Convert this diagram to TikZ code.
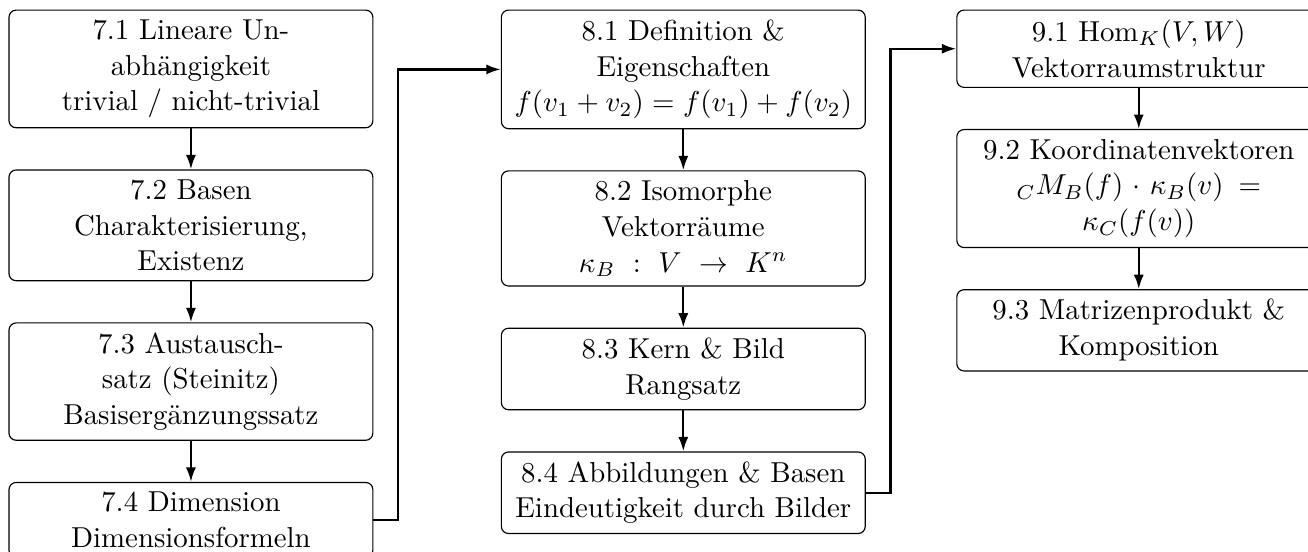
\documentclass[tikz,border=0pt]{standalone}
\usetikzlibrary{positioning,arrows.meta}
\hyphenation{Un-abhängigkeit Austausch-satz}
\begin{document}
\begin{tikzpicture}[
    font=\fontsize{10}{12.4}\selectfont,
    node distance=0.5cm,
    topic/.style={draw, rounded corners=2.5pt, text width=4.2cm, align=center},
    link/.style={thick, -{Latex[length=5pt,width=3.5pt]}}
  ]
  \useasboundingbox (-66.2pt,3.3pt) rectangle (387.3pt,-187.75pt);
  % Kapitel 7
  \node[topic, anchor=north] (k71) at (0,0) {7.1 Lineare Unabhängigkeit\\ trivial / nicht-trivial};
  \node[topic, below=of k71] (k72) {7.2 Basen\\ Charakterisierung, Existenz};
  \node[topic, below=of k72] (k73) {7.3 Austauschsatz (Steinitz)\\ Basisergänzungssatz};
  \node[topic, below=of k73] (k74) {7.4 Dimension\\ Dimensionsformeln};
  % Kapitel 8
  \node[topic, anchor=north] (k81) at (6cm,0) {8.1 Definition \& Eigenschaften\\ $f(v_1+v_2)=f(v_1)+f(v_2)$};
  \node[topic, below=of k81] (k82) {8.2 Isomorphe Vektorräume\\ $\kappa_B : V \to K^n$};
  \node[topic, below=of k82] (k83) {8.3 Kern \& Bild\\ Rangsatz};
  \node[topic, below=of k83] (k84) {8.4 Abbildungen \& Basen\\ Eindeutigkeit durch Bilder};
  % Kapitel 9
  \node[topic, anchor=north] (k91) at (11.55cm,0) {9.1 $\mathrm{Hom}_K(V,W)$\\ Vektorraumstruktur};
  \node[topic, below=of k91] (k92) {9.2 Koordinatenvektoren\\ ${}_CM_B(f)\cdot\kappa_B(v)=$\\ $\kappa_C(f(v))$};
  \node[topic, below=of k92] (k93) {9.3 Matrizenprodukt \&\\ Komposition};

  \draw[link] (k71) -- (k72);
  \draw[link] (k72) -- (k73);
  \draw[link] (k73) -- (k74);
  \draw[link] (k81) -- (k82);
  \draw[link] (k82) -- (k83);
  \draw[link] (k83) -- (k84);
  \draw[link] (k91) -- (k92);
  \draw[link] (k92) -- (k93);
  \draw[link] (k74.east) -- ++(0.3cm,0) |- (k81.west);
  \draw[link] (k84.east) -- ++(0.3cm,0) |- (k91.west);
\end{tikzpicture}
\end{document}
